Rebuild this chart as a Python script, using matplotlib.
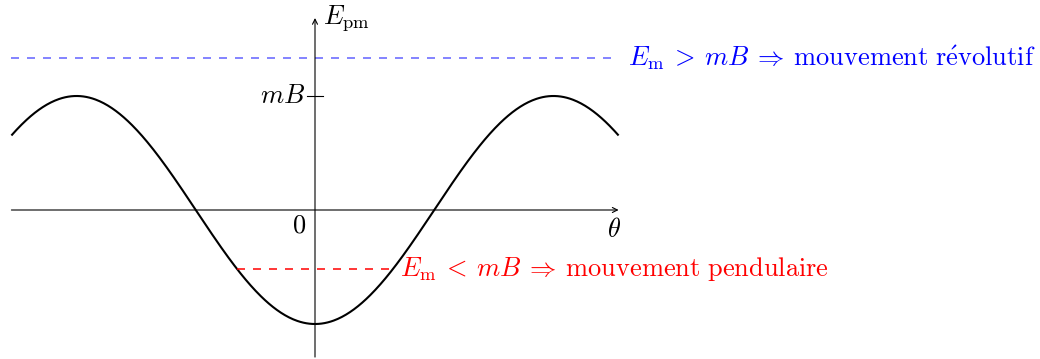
import numpy as np
import matplotlib
matplotlib.use("Agg")
import matplotlib.pyplot as plt

plt.rcParams['mathtext.fontset'] = 'cm'
plt.rcParams['lines.scale_dashes'] = False

# Potential energy E_pm = -mB cos(theta), in units of mB
mB = 1.0
theta_range = [-4.0, 4.0]
level_revolutif = 1.333     # E_m > mB
level_pendulaire = -0.52    # E_m < mB

label_revolutif = r'$E_\mathrm{m}\: >\: mB\: \Rightarrow\: \mathrm{mouvement\ r\acute{e}volutif}$'
label_pendulaire = r'$E_\mathrm{m}\: <\: mB\: \Rightarrow\: \mathrm{mouvement\ pendulaire}$'

W, H = 1040, 359
fig = plt.figure(figsize=(W / 100, H / 100), dpi=100)
ax = fig.add_axes([0, 0, 1, 1])
ax.axis('off')

# pixel geometry of the drawing: origin and scale
x0, y0 = 315, 210
sx, sy = 75.9, 114
ax.set_xlim(-x0 / sx, (W - x0) / sx)
ax.set_ylim(-(H - y0) / sy, y0 / sy)

fs = 19
thin = 0.8
dash = (0, (5.76, 5.76))

# axes with arrow tips
arrow = dict(arrowstyle='->', lw=thin, color='black', shrinkA=0, shrinkB=0,
             mutation_scale=9)
ax.annotate('', xy=(theta_range[1], 0), xytext=(theta_range[0], 0), arrowprops=arrow)
ax.annotate('', xy=(0, 1.684), xytext=(0, -1.29), arrowprops=arrow)

# curve
th = np.linspace(theta_range[0], theta_range[1], 600)
ax.plot(th, -mB * np.cos(th), color='black', lw=1.5, solid_capstyle='butt')

# tick at mB
ax.plot([-0.105, 0.105], [mB, mB], color='black', lw=thin)
ax.text(-0.125, mB, r'$mB$', fontsize=fs, ha='right', va='center')
ax.text(0.11, 1.684, r'$E_\mathrm{pm}$', fontsize=fs, ha='left', va='center')
ax.text(-0.21, -0.135, r'$0$', fontsize=fs, ha='center', va='center')
ax.text(3.94, -0.175, r'$\theta$', fontsize=fs, ha='center', va='center')

# energy levels
ax.plot(theta_range, [level_revolutif] * 2, color='#6262ff', lw=1.1, linestyle=dash)
ax.text(4.12, level_revolutif, label_revolutif, fontsize=fs, color='blue',
        ha='left', va='center')

t_cross = np.arccos(-level_pendulaire / mB)
ax.plot([-t_cross, t_cross], [level_pendulaire] * 2, color='#ff0000', lw=1.1,
        linestyle=dash)
ax.text(t_cross + 0.1, level_pendulaire, label_pendulaire, fontsize=fs, color='#ff0000',
        ha='left', va='center')

fig.savefig('out.png', dpi=100)
